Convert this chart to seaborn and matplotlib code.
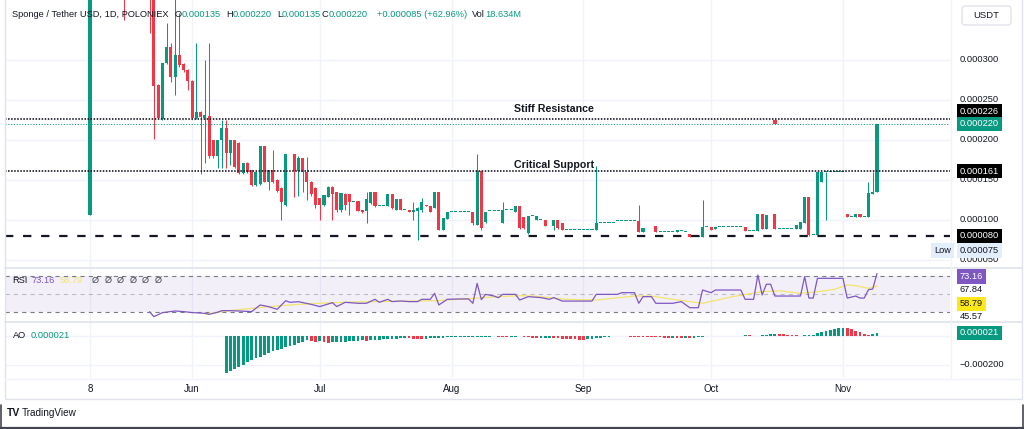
import numpy as np
import pandas as pd
import matplotlib
matplotlib.use("Agg")
import matplotlib.pyplot as plt
import matplotlib.dates as mdates
import matplotlib.transforms as mtransforms
from matplotlib.patches import Rectangle, FancyBboxPatch
import seaborn as sns

sns.set_theme(style="white")
plt.rcParams['font.family'] = ['Liberation Sans', 'DejaVu Sans']
plt.rcParams['lines.scale_dashes'] = False

# ---------------- data (prices in units of 1e-6 USDT) ----------------
BASE_DATE = "2023-05-08"
UNIT = 1e-6

candle_day = [0, 8] + list(range(14, 186))
open_e6 = [
    106, 500, 420, 380, 269, 226, 296, 316, 279, 306,
    295, 288, 274, 228, 235, 228, 230, 200, 180, 200,
    215, 184, 200, 196, 159, 171, 162, 144, 145, 192,
    147, 162, 150, 140, 119, 182, 182, 161, 177, 160,
    148, 140, 127, 119, 129, 141, 135, 112, 133, 132,
    123, 124, 112, 111, 121, 135, 118, 118, 118, 132,
    112, 126, 113, 113, 110, 111, 112, 119, 118, 115,
    135, 88, 101, 110, 110, 110, 110, 110, 110, 94,
    161, 97, 111, 111, 111, 96, 113, 113, 110, 117,
    104, 84, 105, 100, 100, 100, 92, 92, 100, 96,
    87.5, 87.5, 87.5, 87.5, 87.5, 87.5, 87.5, 87.5, 96.7, 96.7,
    96.7, 96.7, 98.75, 98.75, 98.75, 98.75, 98.75, 98.75, 85.4, 92,
    92, 93, 84.6, 84.6, 84.6, 84.6, 84.6, 86, 85, 83,
    79, 79, 79, 91.7, 91.7, 88.3, 91.7, 91.7, 91.7, 91.7,
    91.7, 91.7, 91.7, 86.7, 86.7, 86.7, 107.5, 88.3, 107, 107,
    88.3, 88.3, 88.3, 88.3, 88.3, 88.3, 95.8, 128.3, 81.3, 81.3,
    148, 160, 160, 160, 160, 160, 108, 104, 104, 108,
    104, 104, 133, 135,
]
high_e6 = [
    600, 520, 430, 400, 270, 296, 346, 321, 400, 359,
    296, 289, 275, 321, 236, 300, 321, 200, 200, 225,
    225, 200, 200, 197, 171, 172, 163, 160, 193, 193,
    162, 187, 151, 141, 182, 182, 183, 180, 178, 179,
    149, 141, 128, 131, 142, 142, 135, 134, 134, 132,
    123, 124, 113, 135, 135, 135, 118, 118, 132, 132,
    126, 126, 113, 113, 123, 116, 127, 119, 118, 135,
    135, 102, 110, 110, 110, 110, 110, 110, 110, 182,
    161, 110, 111, 111, 111, 123, 113, 113, 117, 117,
    104, 105, 105, 105, 100, 100, 92, 100, 100, 96,
    87.5, 87.5, 87.5, 87.5, 87.5, 87.5, 87.5, 167.5, 96.7, 96.7,
    96.7, 96.7, 98.75, 98.75, 98.75, 98.75, 98.75, 118.75, 90, 92,
    92, 93, 84.6, 84.6, 84.6, 84.6, 87.5, 86, 85, 83,
    79, 79, 125, 91.7, 91.7, 91.7, 91.7, 91.7, 91.7, 91.7,
    91.7, 91.7, 91.7, 86.7, 86.7, 107.5, 107.5, 106.3, 107, 107,
    88.3, 88.3, 88.3, 88.3, 93.8, 97.9, 128.3, 128.3, 81.3, 160.4,
    160.4, 160, 160, 160, 160, 160, 108, 104, 108, 108,
    104, 148, 160, 220,
]
low_e6 = [
    106, 350, 334, 201, 227, 225, 295, 272, 256, 291,
    285, 262, 226, 226, 158, 171, 178, 178, 165, 165,
    165, 169, 165, 158, 158, 159, 143, 143, 144, 147,
    137, 146, 135, 100, 117, 182, 129, 130, 135, 125,
    130, 115, 100, 118, 129, 100, 110, 110, 112, 106,
    123, 111, 109, 96, 120, 116, 118, 118, 118, 114,
    112, 112, 113, 110, 100, 75, 110, 117, 110, 115,
    88, 88, 101, 110, 110, 110, 110, 110, 94, 94,
    88, 96, 111, 111, 111, 96, 113, 113, 110, 89,
    89, 83, 105, 100, 100, 92, 92, 87, 89, 87,
    87.5, 87.5, 87.5, 87.5, 87.5, 87.5, 87.5, 87.5, 96.7, 96.7,
    96.7, 96.7, 98.75, 98.75, 98.75, 98.75, 98.75, 85, 85, 92,
    92, 84.6, 84.6, 84.6, 84.6, 84.6, 84.6, 86, 85, 79,
    79, 79, 79, 91.7, 87.5, 88.3, 91.7, 91.7, 91.7, 91.7,
    91.7, 91.7, 86.7, 86.7, 86.7, 86.7, 88.3, 88.3, 107, 88.3,
    88.3, 88.3, 88.3, 88.3, 88.3, 88.3, 95.8, 80, 81.3, 81.3,
    148, 100, 160, 160, 160, 160, 104, 104, 104, 104,
    104, 104, 133, 135,
]
close_e6 = [
    600, 420, 380, 267, 228, 296, 316, 279, 306, 294,
    288, 274, 228, 235, 229, 231, 180, 180, 200, 215,
    184, 200, 166, 159, 171, 160, 144, 160, 192, 148,
    162, 148, 136, 122, 182, 182, 161, 177, 160, 147,
    133, 119, 119, 131, 141, 133, 112, 134, 119, 123,
    123, 111, 110, 126, 135, 117, 118, 118, 132, 115,
    126, 112, 113, 110, 112, 115, 123, 117, 110, 135,
    88, 102, 110, 110, 110, 110, 110, 110, 96, 161,
    90, 110, 111, 111, 111, 112, 113, 113, 117, 90,
    90, 105, 105, 105, 100, 92, 92, 100, 90, 88,
    87.5, 87.5, 87.5, 87.5, 87.5, 87.5, 87.5, 96.7, 96.7, 96.7,
    96.7, 96.7, 98.75, 98.75, 98.75, 98.75, 98.75, 85.4, 90, 92,
    92, 84.6, 84.6, 84.6, 84.6, 84.6, 87.5, 86, 85, 79,
    79, 79, 91.7, 91.7, 87.5, 91.7, 91.7, 91.7, 91.7, 91.7,
    91.7, 91.7, 86.7, 86.7, 86.7, 107.5, 88.3, 106.3, 107, 88.3,
    88.3, 88.3, 88.3, 88.3, 93.8, 97.9, 128.3, 81.3, 81.3, 160.4,
    160.4, 160, 160, 160, 160, 160, 104, 104, 108, 104,
    104, 134, 135, 220,
]
marker_day = [161]
marker_e6 = [222]

ao_day = list(range(32, 186))
ao_e6 = [
    -257, -243, -228, -212, -198, -182, -168, -155, -143, -130,
    -117, -106, -96, -87, -78, -69, -60, -50, -40, -30,
    -34, -38, -36, -42, -46, -44, -42, -40, -38, -36,
    -34, -32, -30, -32, -29, -27, -25, -23, -21, -20,
    -18, -17, -15, -17, -19, -21, -22, -19, -16, -14,
    -12, -11, -10, -9, -8, -7, -6.5, -6, -5.5, -5,
    -4.5, -4, -3.5, -3, -3.5, -5, -6, -5, -4, -3,
    -6, -10, -13, -16, -15, -14, -13, -15, -17, -18,
    -19, -21, -24, -26, -28, -24, -20, -16, -11, -7,
    -4, -2, -1, -2, -3, -4, -5, -6, -7, -7.5,
    -8, -9, -10, -11, -12, -11, -12, -13, -12, -13,
    -12, -10, -6, -3, -1, 1, 3, 2, 1, -1,
    -2, 3, 8, 6, 3, 1, 4, 6, 12, 15,
    13, 11, 9, 7, 5, 3, 5, 8, 10, 18,
    27, 35, 42, 48, 53, 57, 53, 46, 36, 25,
    14, 6, 12, 21,
]

rsi_day = [14, 15, 17, 20, 22, 24, 27, 28, 30, 31,
           33, 35, 38, 40, 42, 44, 46, 47, 49, 52,
           54, 57, 58, 60, 63, 65, 67, 68, 70, 71,
           73, 75, 77, 78, 80, 81, 82, 84, 87, 89,
           90, 91, 92, 93, 95, 96, 97, 100, 101, 103,
           106, 108, 109, 111, 118, 119, 124, 125, 128, 129,
           130, 132, 133, 137, 139, 141, 143, 144, 146, 147,
           153, 154, 156, 157, 158, 159, 160, 161, 167, 168,
           169, 170, 171, 177, 178, 180, 181, 182, 183, 184,
           185]
rsi_val = [30, 24.4, 28.9, 30.8, 30.1, 29, 28.2, 27, 29.4, 31.2,
           31.2, 30.8, 30.1, 37.6, 35.7, 32.7, 42.4, 40.6, 41.3, 38.3,
           35.8, 40.2, 35.8, 40.6, 39.5, 39.5, 44, 40.6, 44, 41.4,
           42.1, 41.4, 41.4, 44, 44, 50.8, 37.6, 44, 44.4, 44.4,
           39.5, 62, 43.6, 49.6, 47.7, 45.8, 49.6, 49.6, 43.2, 47,
           45.9, 44, 45.9, 42, 42, 49.6, 49.6, 51.5, 51.5, 39.5,
           47, 47, 39.5, 39.5, 41.4, 34.5, 34.5, 54.5, 51.5, 54.5,
           54.5, 44, 44, 71.5, 48.9, 61, 61, 47.7, 47.7, 69.6,
           45.4, 45.4, 67.7, 67.7, 45.4, 47.7, 45.4, 45.4, 54.9, 55.6,
           73.16]
rsi_ma_day = [27, 34, 42, 49, 57, 65, 81, 88, 96, 101,
              104, 112, 119, 128, 132, 137, 144, 151, 158, 162,
              167, 171, 175, 178, 180, 183, 185]
rsi_ma_val = [27.4, 31.9, 35.7, 38.3, 40.2, 41.3, 42.4, 44.4, 47, 48.1,
              47.7, 44, 43.2, 47.7, 47.7, 44, 39.5, 47, 52.6, 53.7,
              50.8, 52.6, 55.3, 60.2, 59.4, 56.4, 58.79]
rsi_levels = [70, 50, 30]

month_tick_day = [0, 24, 54, 85, 116, 146, 177]
month_tick_label = ["8", "Jun", "Jul", "Aug", "Sep", "Oct", "Nov"]
price_ticks_e6 = [300, 250, 200, 150, 100, 50]
resistance_e6 = 226
support_e6 = 161
floor_e6 = 80
last_e6 = 220
lowest_e6 = 75
ao_tick_e6 = -200

header_name = "Sponge / Tether USD, 1D, POLONIEX"
header_fields = [("O", "0.000135"), ("H", "0.000220"), ("L", "0.000135"), ("C", "0.000220")]
header_change = "+0.000085 (+62.96%)"
header_vol = "18.634M"

# ---------------- styling ----------------
GREEN = "#089981"
RED = "#F23645"
PURPLE = "#7E57C2"
YELLOW_LINE = "#F2E46E"
YELLOW_BOX = "#FFE81A"
TEXT = "#131722"
GRID = "#F0F3FA"
SEP = "#E0E3EB"

W, H = 1024.0, 429.0
fig = plt.figure(figsize=(10.24, 4.29), dpi=100, facecolor="white")


def pane(x0, y0, x1, y1):
    ax = fig.add_axes([x0 / W, 1 - y1 / H, (x1 - x0) / W, (y1 - y0) / H])
    ax.set_axis_off()
    return ax


ax_p = pane(5, 0, 950, 267)
ax_r = pane(5, 268, 950, 321)
ax_a = pane(5, 322, 950, 378)
over = fig.add_axes([0, 0, 1, 1], zorder=10)
over.set_xlim(0, W)
over.set_ylim(H, 0)
over.set_axis_off()

base = pd.Timestamp(BASE_DATE)


def dnum(days):
    return mdates.date2num(base + pd.to_timedelta(np.asarray(days, dtype=float), unit="D"))


PX0, PXD = 90.0, 4.254          # pixel of day 0, pixels per day
xl = dnum([(5 - PX0) / PXD, (950 - PX0) / PXD])
for ax in (ax_p, ax_r, ax_a):
    ax.set_xlim(xl[0], xl[1])
    for md in dnum(month_tick_day):
        ax.axvline(md, color=GRID, lw=1.0, zorder=0)

# ---- main price pane ----
ax_p.set_ylim((300 - 267) / 0.8, 300 / 0.8)
for t in price_ticks_e6:
    ax_p.axhline(t, color=GRID, lw=1.0, zorder=0)

o = np.array(open_e6, float); h = np.array(high_e6, float)
l = np.array(low_e6, float); c = np.array(close_e6, float)
assert len(o) == len(h) == len(l) == len(c) == len(candle_day)
xc = dnum(candle_day)
up = c >= o
cols = np.where(up, GREEN, RED)
ax_p.vlines(xc, l, h, colors=cols, lw=0.75, zorder=3)
body_lo = np.minimum(o, c)
body_h = np.maximum(np.abs(c - o), 1.1)
ax_p.bar(xc, body_h, bottom=body_lo, width=0.72, color=cols, lw=0, zorder=4)
ax_p.scatter(dnum(marker_day), marker_e6, marker="s", s=5, color=RED, lw=0, zorder=5)

ax_p.axhline(resistance_e6, color=TEXT, lw=1.2, ls=(0, (1.1, 1.1)), zorder=6)
ax_p.axhline(support_e6, color=TEXT, lw=1.2, ls=(0, (1.1, 1.1)), zorder=6)
ax_p.axhline(last_e6, color=GREEN, lw=0.7, ls=(0, (0.8, 1.2)), zorder=6)
ax_p.axhline(floor_e6, color=TEXT, lw=1.6, ls=(0, (6.0, 7.0)), zorder=6)

# ---- RSI pane ----
ax_r.set_ylim(50 - (321 - 294) / 0.885, 50 + (294 - 268) / 0.885)
ax_r.axhspan(rsi_levels[2], rsi_levels[0], color=PURPLE, alpha=0.09, lw=0, zorder=0)
ax_r.axhline(rsi_levels[0], color="#787B86", lw=0.8, ls=(0, (3, 3)), zorder=1)
ax_r.axhline(rsi_levels[1], color="#787B86", lw=0.8, ls=(0, (3, 3)), alpha=0.45, zorder=1)
ax_r.axhline(rsi_levels[2], color="#787B86", lw=0.8, ls=(0, (3, 3)), zorder=1)
sns.lineplot(x=dnum(rsi_ma_day), y=rsi_ma_val, ax=ax_r, color=YELLOW_LINE, linewidth=0.9, zorder=2)
sns.lineplot(x=dnum(rsi_day), y=rsi_val, ax=ax_r, color=PURPLE, linewidth=0.9, zorder=3)
ax_r.set_axis_off()
ax_r.set_xlim(xl[0], xl[1])
ax_r.set_ylim(50 - (321 - 294) / 0.885, 50 + (294 - 268) / 0.885)

# ---- AO pane ----
ax_a.set_ylim(-(378 - 336) * 6.9, -(322 - 336) * 6.9)
ax_a.axhline(0, color=GRID, lw=1.0, zorder=0)
ax_a.axhline(ao_tick_e6, color=GRID, lw=1.0, zorder=0)
ao = np.array(ao_e6, float)
assert len(ao) == len(ao_day)
ao_cols = [GREEN] + [GREEN if ao[i] >= ao[i - 1] else RED for i in range(1, len(ao))]
ax_a.bar(dnum(ao_day), ao, width=0.66, color=ao_cols, lw=0, zorder=2)

# ---------------- decorations & text ----------------
over.plot([5, 1022], [267.5, 267.5], color=SEP, lw=1.2)
over.plot([5, 1022], [321.5, 321.5], color=SEP, lw=1.2)
over.plot([5, 1022], [378.5, 378.5], color=GRID, lw=1.0)
over.plot([950.5, 950.5], [0, 378], color=GRID, lw=1.0)
over.add_patch(Rectangle((5, -2), 1017, 401, fill=False, ec=SEP, lw=1.0))
over.plot([0, 1024], [428.3, 428.3], color="#434651", lw=1.6)
over.plot([0.6, 0.6], [405, 429], color="#434651", lw=1.2)
over.plot([1023.4, 1023.4], [405, 429], color="#434651", lw=1.2)

FS_AX = 6.7
tr_p = mtransforms.blended_transform_factory(over.transData, ax_p.transData)
tr_a = mtransforms.blended_transform_factory(over.transData, ax_a.transData)


def fmt(v):
    return f"{v * UNIT:.6f}".replace("-", "\u2212")


for t in price_ticks_e6:
    over.text(960, t, fmt(t), transform=tr_p, fontsize=FS_AX, color=TEXT,
              ha="left", va="center", zorder=1)


def box_label(y_px, s, fc, tc="white"):
    over.text(960, y_px, s, fontsize=FS_AX, color=tc, ha="left", va="center", zorder=5,
              bbox=dict(boxstyle="square,pad=0.3", fc=fc, ec="none"))


def y_of(ax, v):
    disp = ax.transData.transform((0, v))
    return over.transData.inverted().transform(disp)[1]


box_label(y_of(ax_p, resistance_e6) - 8, fmt(resistance_e6), "#000000")
box_label(y_of(ax_p, last_e6), fmt(last_e6), GREEN)
box_label(y_of(ax_p, support_e6), fmt(support_e6), "#000000")
box_label(y_of(ax_p, floor_e6), fmt(floor_e6), "#000000")
box_label(y_of(ax_p, lowest_e6) + 10.5, fmt(lowest_e6), "#E3EEFC", TEXT)
over.text(934, y_of(ax_p, lowest_e6) + 10.5, "Low", fontsize=FS_AX, color=TEXT,
          ha="left", va="center", zorder=5,
          bbox=dict(boxstyle="square,pad=0.3", fc="#E3EEFC", ec="none"))

# RSI axis labels
box_label(276.5, f"{rsi_val[-1]:.2f}", PURPLE)
over.text(960, 289, "67.84", fontsize=FS_AX, color=TEXT, ha="left", va="center")
box_label(304, f"{rsi_ma_val[-1]:.2f}", YELLOW_BOX, TEXT)
over.text(960, 316.5, "45.57", fontsize=FS_AX, color=TEXT, ha="left", va="center")
# AO axis labels
box_label(y_of(ax_a, ao[-1]), fmt(ao[-1]), GREEN)
over.text(960, ao_tick_e6, fmt(ao_tick_e6), transform=tr_a, fontsize=FS_AX, color=TEXT,
          ha="left", va="center")

# USDT box
over.add_patch(FancyBboxPatch((962, 6), 49, 19, boxstyle="round,pad=0,rounding_size=3",
                              fc="white", ec=SEP, lw=1.0))
over.text(986.5, 15.5, "USDT", fontsize=6.8, color=TEXT, ha="center", va="center")

# annotations
over.text(554, 108.5, "Stiff Resistance", fontsize=7.7, fontweight="bold", color=TEXT,
          ha="center", va="center")
over.text(554, 164.5, "Critical Support", fontsize=7.7, fontweight="bold", color=TEXT,
          ha="center", va="center")

# header
HY = 14.5
over.text(12, HY, header_name, fontsize=6.7, color=TEXT, ha="left", va="center")
field_x = [175, 226, 277, 322]
for (k, v), fx in zip(header_fields, field_x):
    t = over.text(fx, HY, k, fontsize=6.7, color=TEXT, ha="left", va="center")
    over.annotate(v, xy=(1, 0.5), xycoords=t, fontsize=6.7, color=GREEN, ha="left", va="center")
over.text(377, HY, header_change, fontsize=6.7, color=GREEN, ha="left", va="center")
tv = over.text(472, HY, "Vol", fontsize=6.7, color=TEXT, ha="left", va="center")
over.annotate(header_vol, xy=(1, 0.5), xycoords=tv, fontsize=6.7, color=GREEN, ha="left", va="center")

# indicator legends
over.text(12.5, 280.5, "RSI", fontsize=6.7, color=TEXT, ha="left", va="center")
over.text(31.5, 280.5, f"{rsi_val[-1]:.2f}", fontsize=6.7, color=PURPLE, ha="left", va="center")
over.text(59.5, 280.5, f"{rsi_ma_val[-1]:.2f}", fontsize=6.7, color=YELLOW_LINE, ha="left", va="center")
for i in range(6):
    over.text(92 + 12.5 * i, 280.5, "\u00d8", fontsize=6.7, color="#434651", ha="left", va="center")
over.text(12.5, 335, "AO", fontsize=6.7, color=TEXT, ha="left", va="center")
over.text(30.5, 335, fmt(ao[-1]), fontsize=6.7, color=GREEN, ha="left", va="center")

# time axis
tr_t = mtransforms.blended_transform_factory(ax_a.transData, over.transData)
for md, lab in zip(dnum(month_tick_day), month_tick_label):
    over.text(md, 389.5, lab, transform=tr_t, fontsize=7, color=TEXT, ha="center", va="center")

# branding
over.text(7, 413.5, "TV", fontsize=7.5, fontweight="bold", color=TEXT, ha="left", va="center")
over.text(22, 413.5, "TradingView", fontsize=7.2, color=TEXT, ha="left", va="center")

fig.savefig("out.png", dpi=100, facecolor="white")
